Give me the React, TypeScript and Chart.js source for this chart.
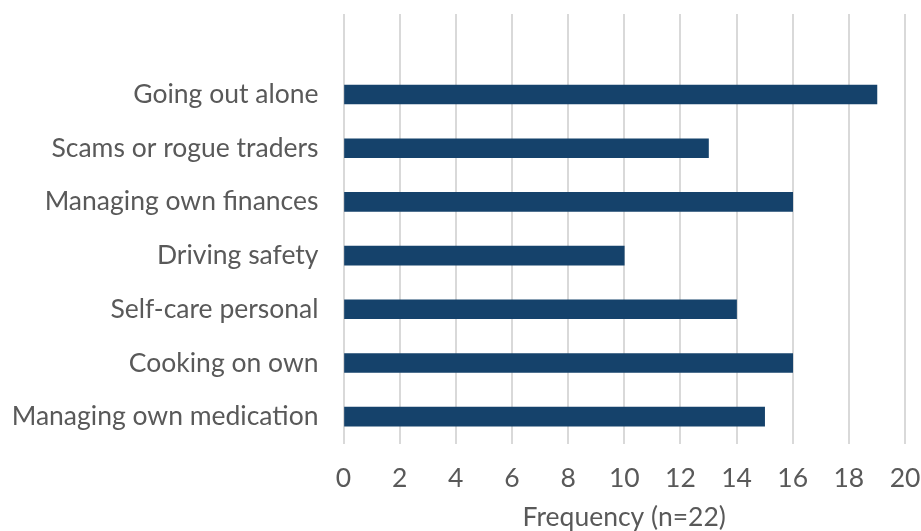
import React, { useEffect, useRef } from "react";
import { Chart, registerables } from "chart.js";

Chart.register(...registerables);

const categories = [
  "",
  "Going out alone",
  "Scams or rogue traders",
  "Managing own finances",
  "Driving safety",
  "Self-care personal",
  "Cooking on own",
  "Managing own medication",
];
const frequencies = [null, 19, 13, 16, 10, 14, 16, 15];
const xTitle = "Frequency (n=22)";

export default function App() {
  const ref = useRef<HTMLCanvasElement | null>(null);
  useEffect(() => {
    if (!ref.current) return;
    const font = { family: "Lato", size: 26.5 };
    const chart = new Chart(ref.current, {
      type: "bar",
      data: {
        labels: categories,
        datasets: [
          {
            data: frequencies as any,
            backgroundColor: "#15426B",
            borderWidth: 0,
            barThickness: 19,
          },
        ],
      },
      options: {
        indexAxis: "y",
        animation: false,
        responsive: false,
        maintainAspectRatio: false,
        layout: { padding: { top: 14, right: 16, left: 0, bottom: 0 } },
        plugins: { legend: { display: false }, tooltip: { enabled: false } },
        scales: {
          x: {
            min: 0,
            max: 20,
            ticks: { stepSize: 2, color: "#595959", font, padding: 19 },
            grid: { color: "#d9d9d9", lineWidth: 2, drawTicks: false },
            border: { display: false },
            title: {
              display: true,
              text: xTitle,
              color: "#595959",
              font: { family: "Lato", size: 26.5, lineHeight: 1 },
              padding: { top: 0, bottom: 0 },
            },
            afterFit: (s: any) => {
              s.height = 87.5;
              s.paddingLeft = 0;
              s.paddingRight = 0;
              s.paddingTop = 0;
              s.paddingBottom = 0;
            },
          },
          y: {
            ticks: { color: "#595959", font, padding: 25 },
            grid: { display: false, drawTicks: false },
            border: { display: false },
            afterFit: (s: any) => {
              s.width = 343.5;
              s.paddingLeft = 0;
              s.paddingRight = 0;
              s.paddingTop = 0;
              s.paddingBottom = 0;
            },
          },
        },
      },
    });
    return () => chart.destroy();
  }, []);
  return (
    <div style={{ position: "fixed", left: 0, top: 0, width: 921, height: 531, background: "#fff" }}>
      <canvas ref={ref} width={921} height={531} style={{ display: "block" }} />
    </div>
  );
}
